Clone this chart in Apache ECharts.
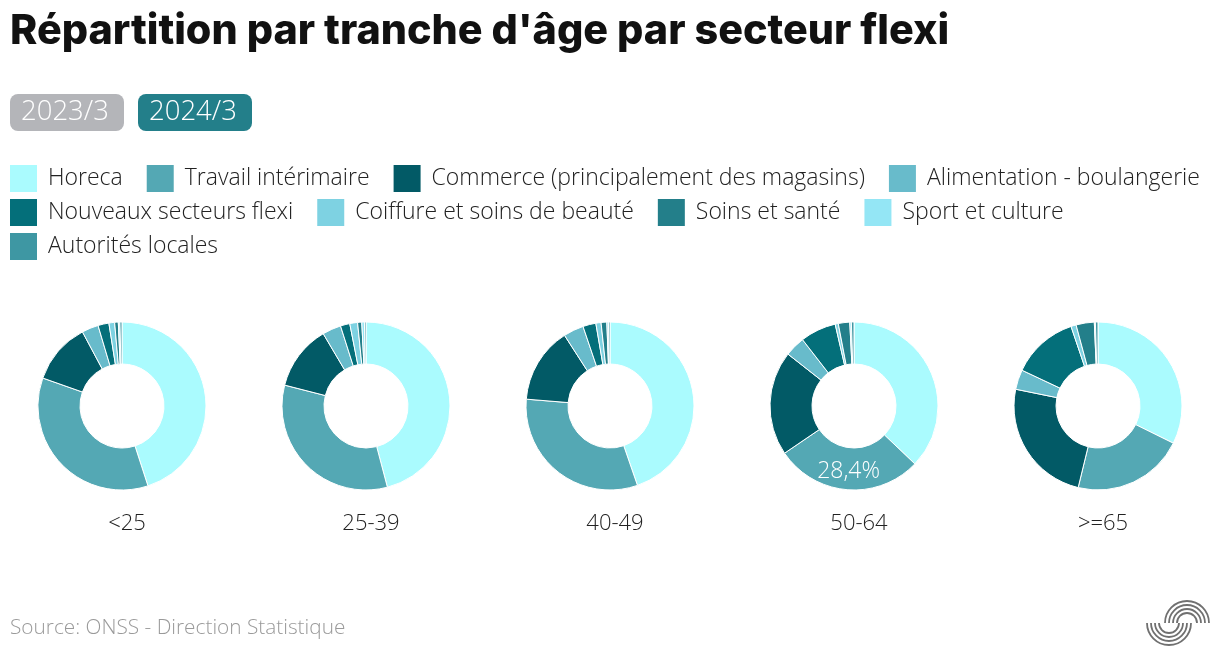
<!DOCTYPE html>
<html><head><meta charset="utf-8">
<script src="https://cdn.jsdelivr.net/npm/echarts@6/dist/echarts.min.js"></script>
<style>html,body{margin:0;padding:0;background:#fff}#c{width:1220px;height:666px}</style>
</head><body><div id="c"></div>
<script>
const categories = ['<25', '25-39', '40-49', '50-64', '>=65'];
const sectors = ['Horeca', 'Travail intérimaire', 'Commerce (principalement des magasins)', 'Alimentation - boulangerie', 'Nouveaux secteurs flexi', 'Coiffure et soins de beauté', 'Soins et santé', 'Sport et culture', 'Autorités locales'];
const colors = ['#aafbfe', '#54a8b4', '#025a66', '#68bbcb', '#046f7a', '#7ed2e2', '#237f8a', '#94e6f5', '#3e97a3'];
// shares (%) per age group, in the sector order above
const v_lt25 = [45.0, 35.4, 11.8, 3.2, 2.1, 1.1, 0.7, 0.3, 0.4];
const v_25_39 = [45.9, 33.1, 12.5, 3.6, 1.8, 1.5, 0.8, 0.5, 0.3];
const v_40_49 = [44.7, 31.6, 14.6, 3.9, 2.5, 1.0, 1.1, 0.3, 0.3];
const v_50_64 = [37.1, 28.4, 20.1, 3.9, 6.9, 0.6, 2.2, 0.3, 0.5];
const v_ge65 = [32.3, 21.5, 24.4, 3.8, 12.8, 1.0, 3.5, 0.2, 0.5];
const periods = ['2023/3', '2024/3'];
const labelled = {group: 3, sector: 1};

const allValues = [v_lt25, v_25_39, v_40_49, v_50_64, v_ge65];
const FONT = '"Open Sans", Lato, sans-serif';

const series = allValues.map((vals, gi) => ({
  type: 'pie',
  center: [(10 + 20 * gi) + '%', 406],
  radius: [42, 84],
  startAngle: 90,
  clockwise: true,
  avoidLabelOverlap: false,
  label: {show: false},
  labelLine: {show: false},
  itemStyle: {borderColor: '#ffffff', borderWidth: 1},
  emphasis: {scale: false},
  data: sectors.map((s, si) => {
    const d = {name: s, value: vals[si], itemStyle: {color: colors[si]}};
    if (gi === labelled.group && si === labelled.sector) {
      d.label = {show: true, position: 'inside', color: '#fff', fontSize: 23, fontFamily: FONT, fontWeight: 300,
        formatter: p => p.value.toFixed(1).replace('.', ',') + '%'};
    }
    return d;
  })
}));

const titles = [
  {text: "Répartition par tranche d'âge par secteur flexi", left: 5, top: 6,
   textStyle: {fontFamily: 'Inter, Lato, sans-serif', fontWeight: 800, fontSize: 41.3, color: '#111'}},
  {text: 'Source: ONSS - Direction Statistique', left: 5, top: 613,
   textStyle: {fontFamily: FONT, fontWeight: 300, fontSize: 20.8, color: '#9a9a9a'}}
];
categories.forEach((c, gi) => titles.push({
  text: c, left: (10 + 20 * gi) + '%', top: 508, textAlign: 'center',
  textStyle: {fontFamily: FONT, fontWeight: 300, fontSize: 22, color: '#222'}
}));

const graphic = [];
const btnColors = ['#b4b5b9', '#237f8a'];
const btnX = [10, 138];
periods.forEach((p, i) => {
  graphic.push({type: 'rect', left: btnX[i], top: 94, shape: {width: 114, height: 37, r: 8}, style: {fill: btnColors[i]}});
  graphic.push({type: 'text', left: btnX[i] + 11, top: 98, style: {text: p, fill: '#fff', font: '300 27.5px ' + FONT}});
});
// logo arcs
[22, 18, 14, 10].forEach(r => {
  graphic.push({type: 'arc', shape: {cx: 1187, cy: 623, r: r, startAngle: Math.PI, endAngle: 2 * Math.PI}, style: {stroke: '#707070', lineWidth: 1.8, fill: null}});
  graphic.push({type: 'arc', shape: {cx: 1169, cy: 623, r: r, startAngle: 0, endAngle: Math.PI}, style: {stroke: '#707070', lineWidth: 1.8, fill: null}});
});

const chart = echarts.init(document.getElementById('c'));
chart.setOption({
  animation: false,
  color: colors,
  title: titles,
  legend: {
    data: sectors, left: 10, top: 165, width: 1226, padding: 0,
    icon: 'rect', itemWidth: 27, itemHeight: 27, itemGap: 7,
    itemStyle: {borderWidth: 0},
    textStyle: {fontFamily: FONT, fontWeight: 300, fontSize: 23, lineHeight: 27, color: '#222', padding: [0, 17, 0, 6]},
    selectedMode: false
  },
  graphic: graphic,
  series: series
});
</script></body></html>
